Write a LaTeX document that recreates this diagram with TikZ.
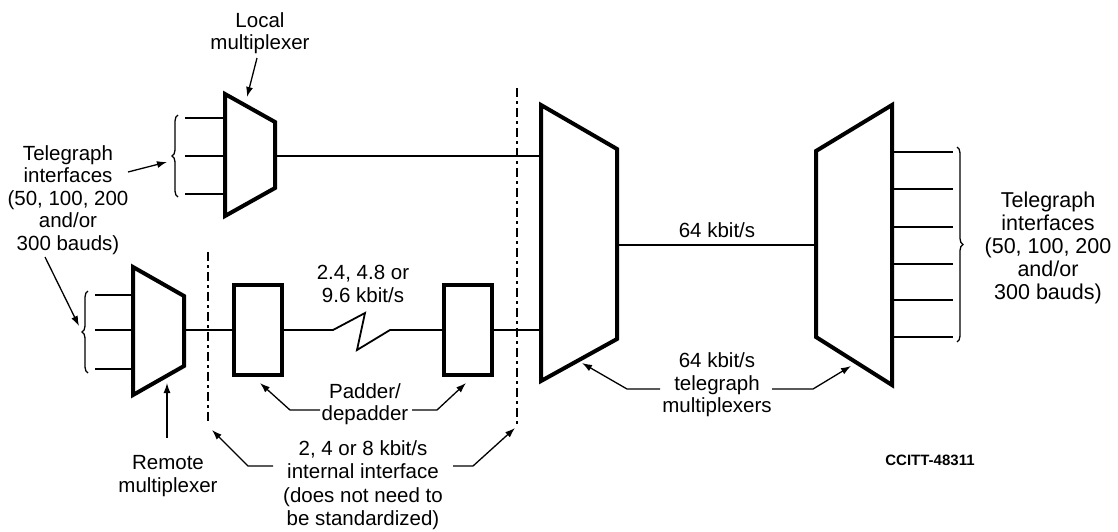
\documentclass[tikz,border=0pt]{standalone}
\usepackage{fontspec}
\setmainfont{Liberation Sans}
\usetikzlibrary{arrows.meta,decorations.pathreplacing,calc}
\begin{document}
\begin{tikzpicture}[x=1pt,y=-1pt,
  mux/.style={draw, line width=4pt, line join=miter},
  thinline/.style={line width=1.8pt},
  stub/.style={line width=2.6pt},
  padbox/.style={draw, line width=4pt, minimum width=48pt, minimum height=90pt, inner sep=0pt},
  lbl/.style={align=center, font=\fontsize{20.5}{22.5}\selectfont, inner sep=0pt},
  ptr/.style={line width=1.3pt, -{Latex[length=10pt,width=7pt]}},
  sepline/.style={line width=1.8pt, dash pattern=on 9pt off 4pt on 3pt off 4pt},
  brc/.style={line width=1.3pt, decorate, decoration={brace, amplitude=6pt}}
]
\useasboundingbox (0,0) rectangle (1118,531);

% ---------- multiplexers (trapezoids) ----------
\coordinate (lmA) at (225,94);  \coordinate (lmB) at (275,122);
\coordinate (lmC) at (275,188); \coordinate (lmD) at (225,216);
\draw[mux] (lmA) -- (lmB) -- (lmC) -- (lmD) -- cycle;

\coordinate (rmA) at (133,267); \coordinate (rmB) at (184,296);
\coordinate (rmC) at (184,366); \coordinate (rmD) at (133,395);
\draw[mux] (rmA) -- (rmB) -- (rmC) -- (rmD) -- cycle;

\coordinate (bmA) at (541,105); \coordinate (bmB) at (617,149);
\coordinate (bmC) at (617,339); \coordinate (bmD) at (541,381);
\draw[mux] (bmA) -- (bmB) -- (bmC) -- (bmD) -- cycle;

\coordinate (cmA) at (816,151); \coordinate (cmB) at (892,105);
\coordinate (cmC) at (892,385); \coordinate (cmD) at (816,337);
\draw[mux] (cmA) -- (cmB) -- (cmC) -- (cmD) -- cycle;

% ---------- padder / depadder boxes ----------
\node[padbox] (pad1) at (258,330) {};
\node[padbox] (pad2) at (468,330) {};

% ---------- input / output stubs ----------
\foreach \y [count=\i] in {118,156,194}{
  \coordinate (li\i) at (185,\y); \coordinate (lj\i) at (225,\y);
  \draw[stub] (li\i) -- (lj\i);
}
\foreach \y [count=\i] in {295,330,369}{
  \coordinate (ri\i) at (95,\y); \coordinate (rj\i) at (133,\y);
  \draw[stub] (ri\i) -- (rj\i);
}
\foreach \y [count=\i] in {152,189,227,264,300,337}{
  \coordinate (co\i) at (892,\y); \coordinate (cp\i) at (953,\y);
  \draw[stub] (co\i) -- (cp\i);
}

% ---------- braces ----------
\coordinate (lb1) at (178,197); \coordinate (lb2) at (178,115);
\draw[brc] (lb1) -- (lb2);
\coordinate (rb1) at (88,373); \coordinate (rb2) at (88,291);
\draw[brc] (rb1) -- (rb2);
\coordinate (cb1) at (957,147); \coordinate (cb2) at (957,342);
\draw[brc] (cb1) -- (cb2);

% ---------- links ----------
\coordinate (lmOut) at (275,156); \coordinate (bmIn1) at (541,156);
\draw[thinline] (lmOut) -- (bmIn1);
\coordinate (bmOut) at (617,245); \coordinate (cmIn) at (816,245);
\draw[thinline] (bmOut) -- (cmIn);
\coordinate (rmOut) at (184,330); \coordinate (bmIn2) at (541,330);
\draw[thinline] (rmOut) -- (pad1.west);
\coordinate (z1) at (333,330); \coordinate (z2) at (365,313);
\coordinate (z3) at (357,350); \coordinate (z4) at (390,330);
\draw[thinline, line join=miter] (pad1.east) -- (z1) -- (z2) -- (z3) -- (z4) -- (pad2.west);
\draw[thinline] (pad2.east) -- (bmIn2);

% ---------- interface separators ----------
\coordinate (s1a) at (517,88);  \coordinate (s1b) at (517,425);
\draw[sepline] (s1a) -- (s1b);
\coordinate (s2a) at (208,252); \coordinate (s2b) at (208,423);
\draw[sepline] (s2a) -- (s2b);

% ---------- labels ----------
\node[lbl] (tl) at (68,200) {Telegraph\\interfaces\\(50, 100, 200\\and/or\\300 bauds)};
\node[lbl, font=\fontsize{21.5}{23}\selectfont] (tr) at (1048,248) {Telegraph\\interfaces\\(50, 100, 200\\and/or\\300 bauds)};
\node[lbl] (loc) at (260,33) {Local\\multiplexer};
\node[lbl] (rem) at (168,476) {Remote\\multiplexer};
\node[lbl] (rate) at (363,284) {2.4, 4.8 or\\9.6 kbit/s};
\node[lbl] (padl) at (365,404) {Padder/\\depadder};
\node[lbl, font=\fontsize{20.5}{23.5}\selectfont] (intf) at (363,485) {2, 4 or 8 kbit/s\\internal interface\\(does not need to\\be standardized)};
\node[lbl] (r64) at (717,230) {64 kbit/s};
\node[lbl] (tmux) at (717,385) {64 kbit/s\\telegraph\\multiplexers};
\node[font=\bfseries\fontsize{15}{17}\selectfont, inner sep=0pt] (ref) at (930,460) {CCITT-48311};

% ---------- pointer arrows ----------
\coordinate (p1s) at (257,58);  \coordinate (p1e) at (247,97);
\draw[ptr] (p1s) -- (p1e);
\coordinate (p2s) at (128,172); \coordinate (p2e) at (167,162);
\draw[ptr] (p2s) -- (p2e);
\coordinate (p3s) at (45,257);  \coordinate (p3e) at (79,326);
\draw[ptr] (p3s) -- (p3e);
\coordinate (p4s) at (167,438); \coordinate (p4e) at (167,383);
\draw[ptr] (p4s) -- (p4e);

\coordinate (p5s) at (320,410); \coordinate (p5m) at (290,410); \coordinate (p5e) at (260,383);
\draw[ptr] (p5s) -- (p5m) -- (p5e);
\coordinate (p6s) at (412,410); \coordinate (p6m) at (437,410); \coordinate (p6e) at (466,383);
\draw[ptr] (p6s) -- (p6m) -- (p6e);

\coordinate (p7s) at (273,466); \coordinate (p7m) at (248,466); \coordinate (p7e) at (212,430);
\draw[ptr] (p7s) -- (p7m) -- (p7e);
\coordinate (p8s) at (453,466); \coordinate (p8m) at (473,466); \coordinate (p8e) at (515,428);
\draw[ptr] (p8s) -- (p8m) -- (p8e);

\coordinate (p9s) at (660,389); \coordinate (p9m) at (627,389); \coordinate (p9e) at (582,363);
\draw[ptr] (p9s) -- (p9m) -- (p9e);
\coordinate (p10s) at (772,389); \coordinate (p10m) at (813,389); \coordinate (p10e) at (851,366);
\draw[ptr] (p10s) -- (p10m) -- (p10e);
\end{tikzpicture}
\end{document}
